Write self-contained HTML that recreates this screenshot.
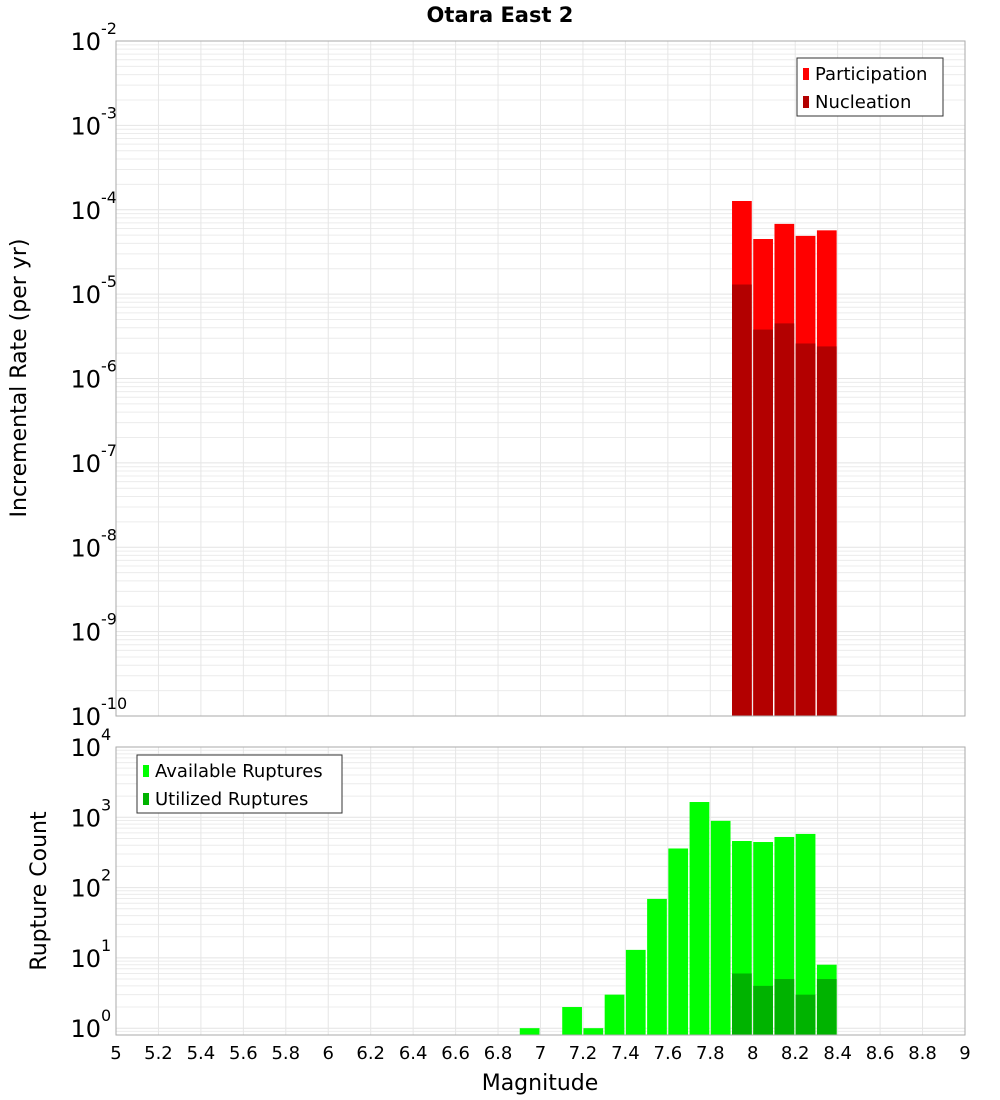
<!DOCTYPE html>
<html><head><meta charset="utf-8"><style>
html,body{margin:0;padding:0;background:#fff;}
svg{display:block;font-family:"DejaVu Sans","Liberation Sans",sans-serif;}
</style></head><body>
<svg id="chart" width="1000" height="1100" viewBox="0 0 1000 1100" xmlns="http://www.w3.org/2000/svg">
<text x="500" y="22" text-anchor="middle" font-size="21" font-weight="bold">Otara East 2</text>
<g id="topPanel"></g>
<g id="botPanel"></g>
<text transform="translate(26,378) rotate(-90)" text-anchor="middle" font-size="22">Incremental Rate (per yr)</text>
<text transform="translate(46,891) rotate(-90)" text-anchor="middle" font-size="22">Rupture Count</text>
<text x="540" y="1090" text-anchor="middle" font-size="22">Magnitude</text>
</svg>
<script>
const topMags = [7.9, 8.0, 8.1, 8.2, 8.3];
const participation = [1.27e-4, 4.5e-5, 6.8e-5, 4.9e-5, 5.7e-5];
const nucleation = [1.3e-5, 3.8e-6, 4.5e-6, 2.6e-6, 2.4e-6];
const botMags = [6.9, 7.1, 7.2, 7.3, 7.4, 7.5, 7.6, 7.7, 7.8, 7.9, 8.0, 8.1, 8.2, 8.3];
const available = [1, 2, 1, 3, 13, 69, 360, 1650, 890, 460, 445, 525, 580, 8];
const utilMags = [7.9, 8.0, 8.1, 8.2, 8.3];
const utilized = [6, 4, 5, 3, 5];
const xTicks = ["5","5.2","5.4","5.6","5.8","6","6.2","6.4","6.6","6.8","7","7.2","7.4","7.6","7.8","8","8.2","8.4","8.6","8.8","9"];
const topExp = [-2,-3,-4,-5,-6,-7,-8,-9,-10];
const botExp = [4,3,2,1,0];

const NS="http://www.w3.org/2000/svg";
const X0=116,X1=965,XMIN=5,XMAX=9;
const xs=m=>X0+(m-XMIN)/(XMAX-XMIN)*(X1-X0);
function mk(parent,tag,attrs){const e=document.createElementNS(NS,tag);for(const k in attrs)e.setAttribute(k,attrs[k]);parent.appendChild(e);return e;}

function panel(g,name,Y0,Y1,lmax,lmin,exps){
  const y=v=>Y0+(lmax-Math.log10(v))/(lmax-lmin)*(Y1-Y0);
  const grid=mk(g,'g',{});
  
  
  for(let d=Math.floor(lmin);d<lmax;d++){
    for(let k=1;k<10;k++){
      const v=k*Math.pow(10,d);const lv=Math.log10(v);
      if(lv<lmin||lv>lmax)continue;
      const yy=y(v);
      mk(grid,'line',{x1:X0,x2:X1,y1:yy,y2:yy,stroke:k==1?'#e4e4e4':'#ececec','stroke-width':1});
    }
  }
  for(let i=0;i<xTicks.length;i++){
    const xx=xs(parseFloat(xTicks[i]));
    mk(grid,'line',{x1:xx,x2:xx,y1:Y0,y2:Y1,stroke:'#e6e6e6','stroke-width':1});
  }
  exps.forEach(e=>{
    const yy=y(Math.pow(10,e));
    const t=mk(g,'text',{x:101,y:yy+9,'text-anchor':'end','font-size':24});
    
    
    t.textContent='10';
    const s=mk(g,'text',{x:101,y:yy-7,'font-size':16});
    
    
    s.textContent=String(e);
  });
  return y;
}
function bars(g,name,y,Y1,mags,vals,color){
  mags.forEach((m,i)=>{
    const x0=xs(m),x1=xs(m+0.1);const yy=y(vals[i]);
    const r=mk(g,'rect',{x:x0+0.5,y:yy,width:x1-x0-1.5,height:Y1-yy,fill:color});
    
    
  });
}
function legend(g,name,bx,by,w,items){
  const lg=mk(g,'g',{});
  
  
  mk(lg,'rect',{x:bx,y:by,width:w,height:58,fill:'#fff',stroke:'#333','stroke-width':1});
  items.forEach((it,i)=>{
    mk(lg,'rect',{x:bx+6,y:by+10+i*28,width:6,height:12,fill:it[1]});
    const t=mk(lg,'text',{x:bx+18,y:by+22+i*28,'font-size':18});
    
    
    t.textContent=it[0];
  });
}
const topG=document.getElementById('topPanel'),botG=document.getElementById('botPanel');
const yT=panel(topG,'top',41,716,-2,-10,topExp);
bars(topG,'participation',yT,716,topMags,participation,'#ff0000');
bars(topG,'nucleation',yT,716,topMags,nucleation,'#b30000');
mk(topG,'rect',{x:X0,y:41,width:X1-X0,height:675,fill:'none',stroke:'#aaa','stroke-width':1});
legend(topG,'top-legend',797,58,146,[['Participation','#ff0000'],['Nucleation','#b30000']]);

const BL=Math.log10(0.8);
const yB=panel(botG,'bottom',747,1035,4,BL,botExp);
bars(botG,'available',yB,1035,botMags,available,'#00ff00');
bars(botG,'utilized',yB,1035,utilMags,utilized,'#00b300');
mk(botG,'rect',{x:X0,y:747,width:X1-X0,height:288,fill:'none',stroke:'#aaa','stroke-width':1});
legend(botG,'bottom-legend',137,755,205,[['Available Ruptures','#00ff00'],['Utilized Ruptures','#00b300']]);
xTicks.forEach(l=>{
  const t=mk(botG,'text',{x:xs(parseFloat(l)),y:1059,'text-anchor':'middle','font-size':18});
  
  
  t.textContent=l;
});
</script>
</body></html>
